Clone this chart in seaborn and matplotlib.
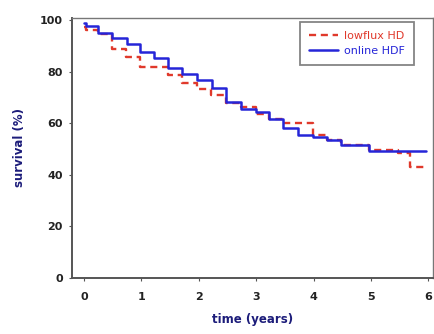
import matplotlib
matplotlib.use("Agg")
import matplotlib.pyplot as plt
import seaborn as sns
import pandas as pd

# Kaplan-Meier style step data (time in years, survival in %)
lowflux_time = [0, 0.03, 0.25, 0.48, 0.73, 0.98, 1.46, 1.71, 1.97, 2.22, 2.47, 2.73, 2.99, 3.22, 3.46, 3.98, 4.24, 4.48, 4.97, 5.47, 5.67, 5.96]
lowflux_surv = [97.5, 96.3, 94.8, 88.9, 85.6, 82.0, 78.8, 75.7, 73.2, 71.0, 67.8, 66.3, 63.6, 61.7, 60.2, 55.3, 53.6, 51.4, 49.6, 48.3, 43.0, 43.0]

online_time = [0, 0.03, 0.25, 0.48, 0.75, 0.98, 1.22, 1.47, 1.71, 1.97, 2.23, 2.47, 2.73, 2.99, 3.22, 3.46, 3.72, 3.98, 4.24, 4.48, 4.97, 5.96]
online_surv = [99.0, 97.6, 95.0, 93.1, 90.9, 87.8, 85.2, 81.4, 78.9, 76.6, 73.6, 68.2, 65.5, 64.2, 61.7, 58.2, 55.4, 54.6, 53.6, 51.4, 49.4, 49.4]

series_names = ["lowflux HD", "online HDF"]
x_ticks = [0, 1, 2, 3, 4, 5, 6]
y_ticks = [0, 20, 40, 60, 80, 100]

df_low = pd.DataFrame({"time": lowflux_time, "surv": lowflux_surv})
df_on = pd.DataFrame({"time": online_time, "surv": online_surv})

sns.set_style("white")
plt.rcParams["font.family"] = ["DejaVu Sans"]

fig = plt.figure(figsize=(4.35, 3.34), dpi=100)
ax = fig.add_axes([0.1655, 0.168, 0.83, 0.778])

red = "#e0392b"
blue = "#2525d8"
label_col = "#1c1c7a"

sns.lineplot(data=df_low, x="time", y="surv", ax=ax, color=red, lw=1.7,
             drawstyle="steps-post", estimator=None, sort=False,
             label=series_names[0], dashes=False, linestyle=(0, (3, 2)))
sns.lineplot(data=df_on, x="time", y="surv", ax=ax, color=blue, lw=1.8,
             drawstyle="steps-post", estimator=None, sort=False,
             label=series_names[1])

ax.set_xlim(-0.21, 6.08)
ax.set_ylim(0, 100.8)
ax.set_xticks(x_ticks)
ax.set_yticks(y_ticks)
ax.set_xticklabels([str(v) for v in x_ticks], fontsize=8, fontweight="bold", color="#222222")
ax.set_yticklabels([str(v) for v in y_ticks], fontsize=8, fontweight="bold", color="#222222")
ax.tick_params(axis="x", length=2, width=0.8, pad=8, direction="out", bottom=True, colors="#555555", labelcolor="#222222")
ax.tick_params(axis="y", length=2.5, width=0.8, pad=4, direction="out", left=True, colors="#555555", labelcolor="#222222")

ax.set_xlabel("time (years)", fontsize=8.5, fontweight="bold", color=label_col, labelpad=8)
ax.set_ylabel("survival (%)", fontsize=8.5, fontweight="bold", color=label_col, labelpad=10)

for side in ["left", "bottom"]:
    ax.spines[side].set_color("#555555")
    ax.spines[side].set_linewidth(1.4)
for side in ["top", "right"]:
    ax.spines[side].set_color("#777777")
    ax.spines[side].set_linewidth(1.0)

leg = ax.legend(loc="upper right", fontsize=8, frameon=True, fancybox=False,
                handlelength=2.6, handletextpad=0.5, borderpad=0.85,
                labelspacing=0.42, borderaxespad=0,
                bbox_to_anchor=(0.947, 0.985))
leg.get_frame().set_edgecolor("#666666")
leg.get_frame().set_linewidth(1.3)
for txt, c in zip(leg.get_texts(), [red, blue]):
    txt.set_color(c)

fig.savefig("out.png", dpi=100)
